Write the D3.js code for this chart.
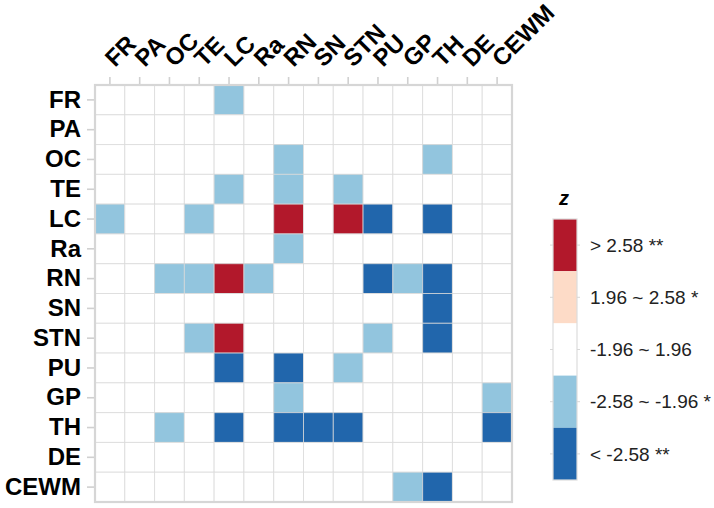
<!DOCTYPE html>
<html>
<head>
<meta charset="utf-8">
<script src="https://cdn.jsdelivr.net/npm/d3@7"></script>
<style>
  html, body { margin: 0; padding: 0; background: #fff; }
  svg { display: block; }
  text { font-family: "Liberation Sans", Arial, sans-serif; }
</style>
</head>
<body>
<svg id="chart" width="714" height="508"></svg>
<script>
// ---- data ----
const rowLabels = ["FR","PA","OC","TE","LC","Ra","RN","SN","STN","PU","GP","TH","DE","CEWM"];
const colLabels = ["FR","PA","OC","TE","LC","Ra","RN","SN","STN","PU","GP","TH","DE","CEWM"];
// significance level per cell: 2 = > 2.58, 1 = 1.96~2.58, 0 = -1.96~1.96, -1 = -2.58~-1.96, -2 = < -2.58
const zFR   = [ 0, 0, 0, 0,-1, 0, 0, 0, 0, 0, 0, 0, 0, 0];
const zPA   = [ 0, 0, 0, 0, 0, 0, 0, 0, 0, 0, 0, 0, 0, 0];
const zOC   = [ 0, 0, 0, 0, 0, 0,-1, 0, 0, 0, 0,-1, 0, 0];
const zTE   = [ 0, 0, 0, 0,-1, 0,-1, 0,-1, 0, 0, 0, 0, 0];
const zLC   = [-1, 0, 0,-1, 0, 0, 2, 0, 2,-2, 0,-2, 0, 0];
const zRa   = [ 0, 0, 0, 0, 0, 0,-1, 0, 0, 0, 0, 0, 0, 0];
const zRN   = [ 0, 0,-1,-1, 2,-1, 0, 0, 0,-2,-1,-2, 0, 0];
const zSN   = [ 0, 0, 0, 0, 0, 0, 0, 0, 0, 0, 0,-2, 0, 0];
const zSTN  = [ 0, 0, 0,-1, 2, 0, 0, 0, 0,-1, 0,-2, 0, 0];
const zPU   = [ 0, 0, 0, 0,-2, 0,-2, 0,-1, 0, 0, 0, 0, 0];
const zGP   = [ 0, 0, 0, 0, 0, 0,-1, 0, 0, 0, 0, 0, 0,-1];
const zTH   = [ 0, 0,-1, 0,-2, 0,-2,-2,-2, 0, 0, 0, 0,-2];
const zDE   = [ 0, 0, 0, 0, 0, 0, 0, 0, 0, 0, 0, 0, 0, 0];
const zCEWM = [ 0, 0, 0, 0, 0, 0, 0, 0, 0, 0,-1,-2, 0, 0];
const zRows = [zFR,zPA,zOC,zTE,zLC,zRa,zRN,zSN,zSTN,zPU,zGP,zTH,zDE,zCEWM];

const legendLevels = [2, 1, 0, -1, -2];
const legendLabels = ["> 2.58 **", "1.96 ~ 2.58 *", "-1.96 ~ 1.96", "-2.58 ~ -1.96 *", "< -2.58 **"];
const legendColors = ["#b2182b", "#fddbc7", "#ffffff", "#92c5de", "#2166ac"];

// ---- chart ----
const svg = d3.select("#chart");
const x = d3.scaleBand().domain(colLabels).range([95, 512]);
const y = d3.scaleBand().domain(rowLabels).range([85, 502]);
const color = d3.scaleOrdinal().domain(legendLevels).range(legendColors);

const cells = [];
rowLabels.forEach((r, i) => colLabels.forEach((c, j) => cells.push({row: r, col: c, z: zRows[i][j]})));

svg.append("g").selectAll("rect").data(cells).join("rect")
  .attr("x", d => x(d.col))
  .attr("y", d => y(d.row))
  .attr("width", x.bandwidth())
  .attr("height", y.bandwidth())
  .attr("fill", d => color(d.z))
  .attr("stroke", "#d8d8d8")
  .attr("stroke-opacity", 0.75)
  .attr("stroke-width", 1);

// panel border
svg.append("rect")
  .attr("x", 95).attr("y", 85)
  .attr("width", 512 - 95).attr("height", 502 - 85)
  .attr("fill", "none").attr("stroke", "#d6d6d6").attr("stroke-width", 2.2);

// y axis
const yAxis = d3.axisLeft(y).tickSize(7).tickPadding(6);
const gy = svg.append("g").attr("transform", "translate(94,0)").call(yAxis);
gy.select(".domain").remove();
gy.selectAll(".tick line").attr("stroke", "#d0d0d0").attr("stroke-width", 1.6);
gy.selectAll(".tick text")
  .attr("fill", "#000")
  .style("font-size", "24px")
  .style("font-weight", "bold");

// x axis (top)
const xAxis = d3.axisTop(x).tickSize(7).tickPadding(0);
const gx = svg.append("g").attr("transform", "translate(0,84)").call(xAxis);
gx.select(".domain").remove();
gx.selectAll(".tick line").attr("stroke", "#d0d0d0").attr("stroke-width", 1.6);
gx.selectAll(".tick text")
  .attr("fill", "#000")
  .attr("text-anchor", "start")
  .attr("x", null).attr("y", null).attr("dy", null)
  .attr("transform", "translate(5,-16) rotate(-45)")
  .style("font-size", "24px")
  .style("font-weight", "bold");

// legend
const lg = svg.append("g");
const keyH = 52.2, keyW = 24, lx = 553, ly = 219;
lg.append("text")
  .attr("x", lx + 6).attr("y", ly - 14)
  .style("font-size", "20px").style("font-weight", "bold").style("font-style", "italic")
  .text("z");
lg.selectAll("rect.key").data(legendLevels).join("rect")
  .attr("class", "key")
  .attr("x", lx).attr("y", (d, i) => ly + i * keyH)
  .attr("width", keyW).attr("height", keyH)
  .attr("fill", d => color(d));
lg.append("rect")
  .attr("x", lx).attr("y", ly).attr("width", keyW).attr("height", keyH * legendLevels.length)
  .attr("fill", "none").attr("stroke", "#dcdcdc").attr("stroke-width", 1.2);
legendLevels.forEach((d, i) => {
  const cy = ly + (i + 0.5) * keyH;
  lg.append("line").attr("x1", lx - 3).attr("x2", lx).attr("y1", cy).attr("y2", cy)
    .attr("stroke", "#d8d8d8").attr("stroke-width", 1);
  lg.append("line").attr("x1", lx + keyW).attr("x2", lx + keyW + 3).attr("y1", cy).attr("y2", cy)
    .attr("stroke", "#d8d8d8").attr("stroke-width", 1);
  lg.append("text")
    .attr("x", 590).attr("y", cy).attr("dy", "0.35em")
    .attr("fill", "#222")
    .style("font-size", "19px")
    .text(legendLabels[i]);
});
</script>
</body>
</html>
